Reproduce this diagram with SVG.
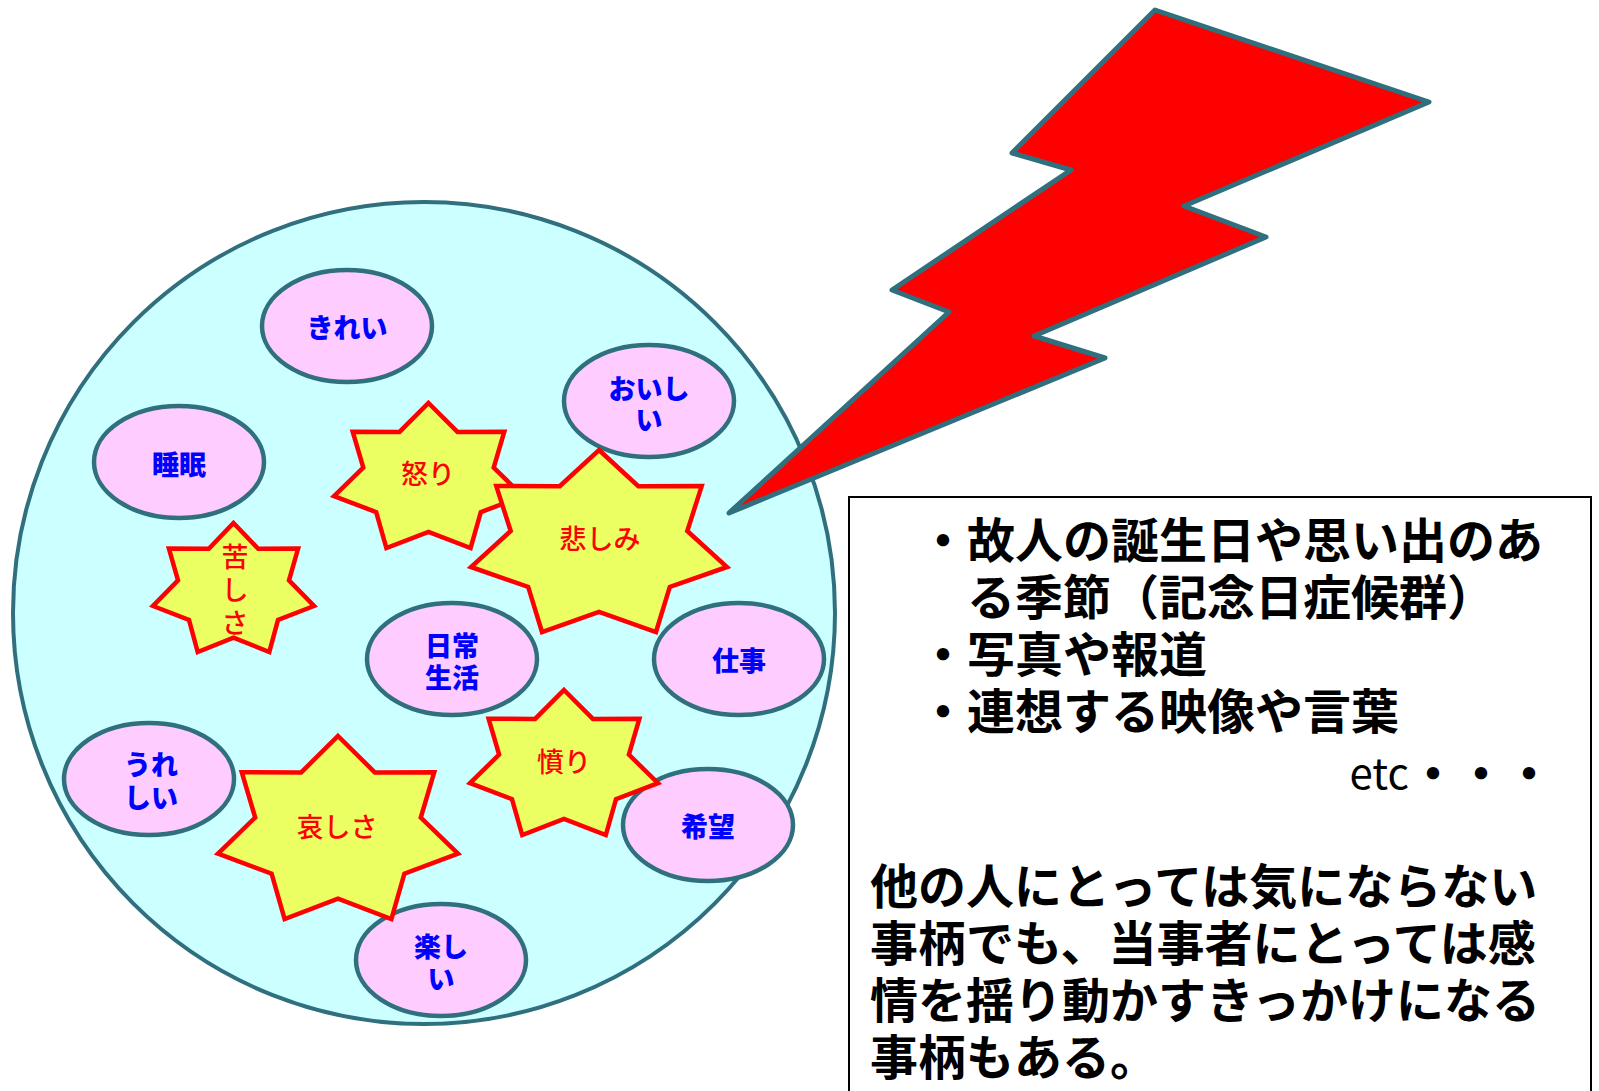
<svg xmlns="http://www.w3.org/2000/svg" width="1599" height="1091" viewBox="0 0 1599 1091">
<style>
.bg{fill:#FFFFFF}
.world{fill:#CCFFFF;stroke:#2F6F7E;stroke-width:4}
.oval{fill:#FFCCFF;stroke:#2F6F7E;stroke-width:4.5}
.star{fill:#ECFF62;stroke:#FF0000;stroke-width:4.5;stroke-linejoin:miter}
.blue{font-family:"Noto Sans CJK JP","Noto Sans CJK SC",sans-serif;font-size:27px;font-weight:900;fill:#0000FF;text-anchor:middle;dominant-baseline:central}
.red{font-family:"Noto Sans CJK JP","Noto Sans CJK SC",sans-serif;font-size:27px;font-weight:500;fill:#FF0000;text-anchor:middle;dominant-baseline:central}
.bolt{fill:#FF0000;stroke:#2F6F7E;stroke-width:5;stroke-linejoin:round}
.box{fill:#FFFFFF;stroke:#000000;stroke-width:2}
.bt{font-family:"Noto Sans CJK JP","Noto Sans CJK SC",sans-serif;font-size:48px;font-weight:700;fill:#000000;dominant-baseline:central}
</style>
<rect class="bg" x="0" y="0" width="1599" height="1091"/>

<g id="world">
<ellipse class="world" cx="424" cy="613" rx="411" ry="411"/>
</g>

<g id="oval-kirei"><ellipse class="oval" cx="347" cy="326" rx="85" ry="56"/><text class="blue" x="347" y="326">きれい</text></g>
<g id="oval-oishii"><ellipse class="oval" cx="649" cy="401" rx="85" ry="56"/><text class="blue" x="649" y="387">おいし</text><text class="blue" x="649" y="418">い</text></g>
<g id="oval-suimin"><ellipse class="oval" cx="179" cy="462" rx="85" ry="56"/><text class="blue" x="179" y="463">睡眠</text></g>
<g id="oval-nichijou"><ellipse class="oval" cx="452" cy="659" rx="85" ry="56"/><text class="blue" x="452" y="644">日常</text><text class="blue" x="452" y="676">生活</text></g>
<g id="oval-shigoto"><ellipse class="oval" cx="739" cy="659" rx="85" ry="56"/><text class="blue" x="739" y="659">仕事</text></g>
<g id="oval-ureshii"><ellipse class="oval" cx="149" cy="779" rx="85" ry="56"/><text class="blue" x="151" y="763">うれ</text><text class="blue" x="151" y="796">しい</text></g>
<g id="oval-kibou"><ellipse class="oval" cx="708" cy="825" rx="85" ry="56"/><text class="blue" x="708" y="825">希望</text></g>
<g id="oval-tanoshii"><ellipse class="oval" cx="441" cy="960" rx="85" ry="56"/><text class="blue" x="441" y="945">楽し</text><text class="blue" x="441" y="977">い</text></g>

<g id="star-ikari"><polygon class="star" points="428.5,403 457.5,431.9 504.3,431.7 493.7,467.6 523,496.2 480.8,512.1 470.6,548 428.5,531.9 386.4,548 376.2,512.1 334,496.2 363.3,467.6 352.7,431.7 399.5,431.9"/><text class="red" x="428" y="472">怒り</text></g>
<g id="star-kanashimi"><polygon class="star" points="599,450 638.3,486.2 701.7,486.1 687.3,531 727,567 669.8,586.9 656,632 599,611.8 542,632 528.2,586.9 471,567 510.7,531 496.3,486.1 559.7,486.2"/><text class="red" x="600" y="537">悲しみ</text></g>
<g id="star-kurushisa"><polygon class="star" points="233.5,523 258.2,548.7 298.1,548.6 289,580.4 314,606 278,620 269.3,652 233.5,637.7 197.7,652 189,620 153,606 178,580.4 168.9,548.6 208.8,548.7"/><text class="red" x="235" y="555">苦</text><text class="red" x="235" y="588">し</text><text class="red" x="235" y="621">さ</text></g>
<g id="star-ikidoori"><polygon class="star" points="564,690 592.9,718.9 639.4,718.7 628.9,754.6 658,783.2 616,799.1 605.8,835 564,818.9 522.2,835 512,799.1 470,783.2 499.1,754.6 488.6,718.7 535.1,718.9"/><text class="red" x="564" y="760">憤り</text></g>
<g id="star-kanashisa"><polygon class="star" points="338,736 374.8,772.4 434.2,772.3 420.8,817.5 458,853.7 404.4,873.7 391.4,919 338,898.7 284.6,919 271.6,873.7 218,853.7 255.2,817.5 241.8,772.3 301.2,772.4"/><text class="red" x="337" y="825">哀しさ</text></g>

<g id="connectors">
<polygon id="bolt" class="bolt" points="1155,10 1429,102 1184,206 1266,237 1034,336 1105,358 729,513 949,312 892,290 1071,170 1012,153"/>
</g>

<g id="textbox">
<rect class="box" x="849" y="497" width="742" height="610"/>
<text class="bt" x="919" y="537">・故人の誕生日や思い出のあ</text>
<text class="bt" x="967" y="594">る季節（記念日症候群）</text>
<text class="bt" x="919" y="651">・写真や報道</text>
<text class="bt" x="919" y="708">・連想する映像や言葉</text>
<text class="bt" x="1553" y="770" text-anchor="end"><tspan font-weight="400" font-size="42">etc</tspan>・・・</text>
<text class="bt" x="870" y="883">他の人にとっては気にならない</text>
<text class="bt" x="870" y="940">事柄でも、当事者にとっては感</text>
<text class="bt" x="870" y="997">情を揺り動かすきっかけになる</text>
<text class="bt" x="870" y="1054">事柄もある。</text>
</g>
</svg>
